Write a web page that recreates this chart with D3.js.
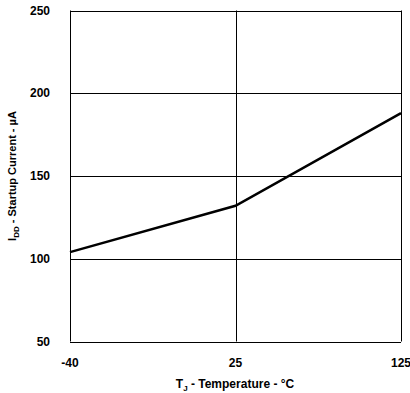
<!DOCTYPE html>
<html><head><meta charset="utf-8">
<script src="https://cdn.jsdelivr.net/npm/d3@7"></script>
<style>body{margin:0;background:#fff}svg{display:block}</style>
</head><body>
<script>
const temps = ["-40", "25", "125"];
const current = [104, 132, 188];
const yTicks = [50, 100, 150, 200, 250];

const W = 410, H = 393;
const m = {left: 70, right: 9, top: 10.5, bottom: 51.5};
const svg = d3.select("body").append("svg").attr("width", W).attr("height", H);
const font = "'Liberation Sans', Arial, sans-serif";

const x = d3.scalePoint().domain(temps).range([m.left, W - m.right]);
const y = d3.scaleLinear().domain([50, 250]).range([H - m.bottom, m.top]);

// grid
const g = svg.append("g");
g.selectAll(".hg").data(yTicks).join("line")
  .attr("x1", m.left).attr("x2", W - m.right)
  .attr("y1", d => Math.round(y(d)) + 0.5).attr("y2", d => Math.round(y(d)) + 0.5)
  .attr("stroke", "#000").attr("stroke-width", 1);
g.selectAll(".vg").data(temps).join("line")
  .attr("y1", m.top).attr("y2", H - m.bottom)
  .attr("x1", d => Math.round(x(d)) + 0.5).attr("x2", d => Math.round(x(d)) + 0.5)
  .attr("stroke", "#000").attr("stroke-width", 1);

// y labels
svg.append("g").selectAll("text").data(yTicks).join("text")
  .attr("x", 50).attr("y", d => y(d)).attr("dy", "0.35em")
  .attr("text-anchor", "end").attr("font-family", font).attr("font-weight", "bold")
  .attr("font-size", 12).text(d => d);

// x labels
svg.append("g").selectAll("text").data(temps).join("text")
  .attr("x", d => x(d)).attr("y", 362.5).attr("dy", "0.35em")
  .attr("text-anchor", "middle").attr("font-family", font).attr("font-weight", "bold")
  .attr("font-size", 12).text(d => d);

// line
const data = temps.map((t, i) => ({t, v: current[i]}));
svg.append("path").datum(data)
  .attr("d", d3.line().x(d => x(d.t)).y(d => y(d.v)))
  .attr("fill", "none").attr("stroke", "#000").attr("stroke-width", 2.5);

// x title
const xt = svg.append("text").attr("x", 235).attr("y", 384).attr("dy", "0.35em")
  .attr("text-anchor", "middle").attr("font-family", font).attr("font-weight", "bold").attr("font-size", 12);
xt.append("tspan").text("T");
xt.append("tspan").attr("font-size", 8).attr("dy", 3).text("J");
xt.append("tspan").attr("dy", -3).text(" - Temperature - °C");

// y title
const yt = svg.append("text").attr("transform", `translate(16,${(m.top + H - m.bottom) / 2}) rotate(-90)`)
  .attr("text-anchor", "middle").attr("font-family", font).attr("font-weight", "bold").attr("font-size", 11);
yt.append("tspan").text("I");
yt.append("tspan").attr("font-size", 8).attr("dy", 3).text("DD");
yt.append("tspan").attr("dy", -3).text(" - Startup Current - µA");
</script>
</body></html>
